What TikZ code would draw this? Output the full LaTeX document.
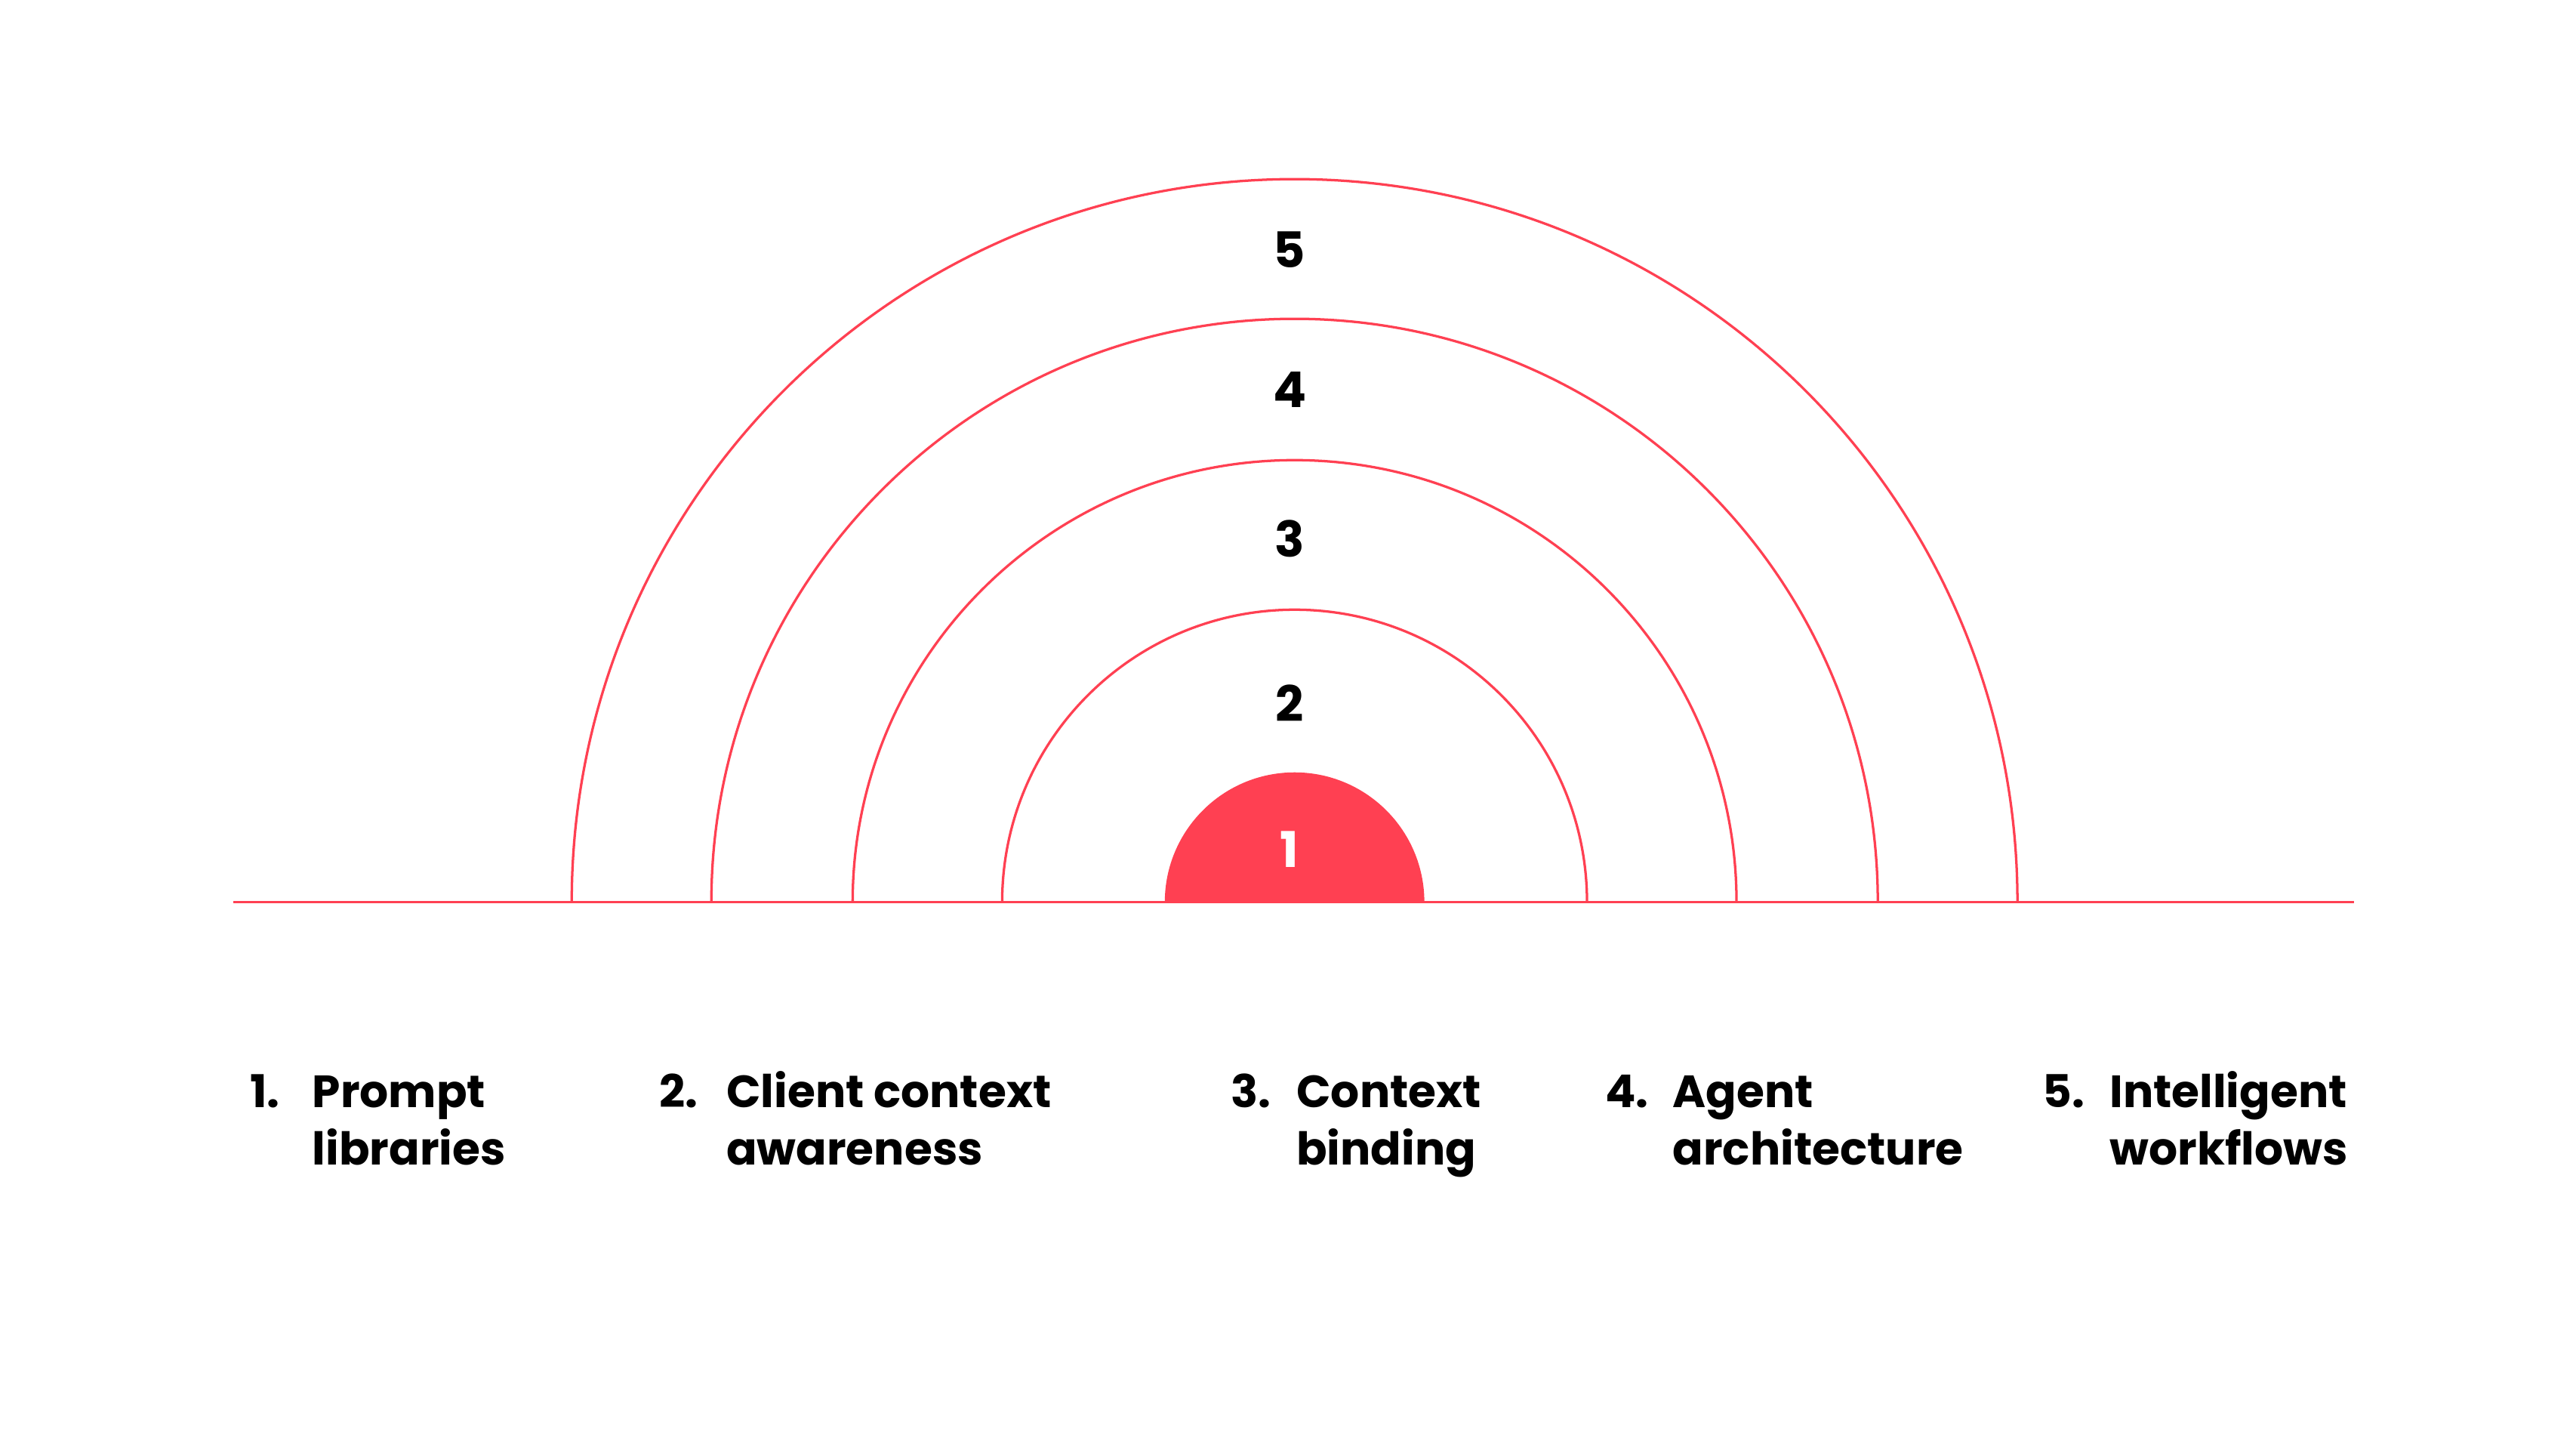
\documentclass[tikz,border=0pt]{standalone}
\usepackage{fontspec}
\usetikzlibrary{calc}
\setmainfont{Poppins}
\definecolor{rd}{HTML}{FF4052}
\begin{document}
\begin{tikzpicture}[x=1pt,y=-1pt,
  arc/.style={draw=rd,line width=1.5pt},
  num/.style={font=\fontsize{30}{34}\selectfont\bfseries},
  lab/.style={font=\fontsize{27.5}{35}\selectfont\bfseries,anchor=base west,inner sep=0pt}]
\useasboundingbox (0,0) rectangle (1568,882);
\coordinate (c) at (788,549);
\coordinate (l) at (142,549);
\coordinate (r) at (1433,549);
\fill[rd] (709,549) arc[start angle=180,end angle=360,radius=79] -- cycle;
\foreach \rr in {178,269,355,440}{
  \draw[arc] ($(c)+(-\rr,0)$) arc[start angle=180,end angle=360,radius=\rr];
}
\draw[arc] (l) -- (r);
\node[num] (n5) at (785,152) {5};
\node[num] (n4) at (785,237) {4};
\node[num] (n3) at (785,328) {3};
\node[num] (n2) at (785,428) {2};
\node[num,text=white] (n1) at (785,517) {1};
\node[lab] (a1) at (152,674) {1.};
\node[lab] (b1) at (190,674) {Prompt};
\node[lab] (c1) at (190,709) {libraries};
\node[lab] (a2) at (401,674) {2.};
\node[lab] (b2) at (442,674) {Client context};
\node[lab] (c2) at (442,709) {awareness};
\node[lab] (a3) at (749,674) {3.};
\node[lab] (b3) at (789,674) {Context};
\node[lab] (c3) at (789,709) {binding};
\node[lab] (a4) at (977,674) {4.};
\node[lab] (b4) at (1018,674) {Agent};
\node[lab] (c4) at (1018,709) {architecture};
\node[lab] (a5) at (1243,674) {5.};
\node[lab] (b5) at (1284,674) {Intelligent};
\node[lab] (c5) at (1284,709) {workflows};
\end{tikzpicture}
\end{document}
